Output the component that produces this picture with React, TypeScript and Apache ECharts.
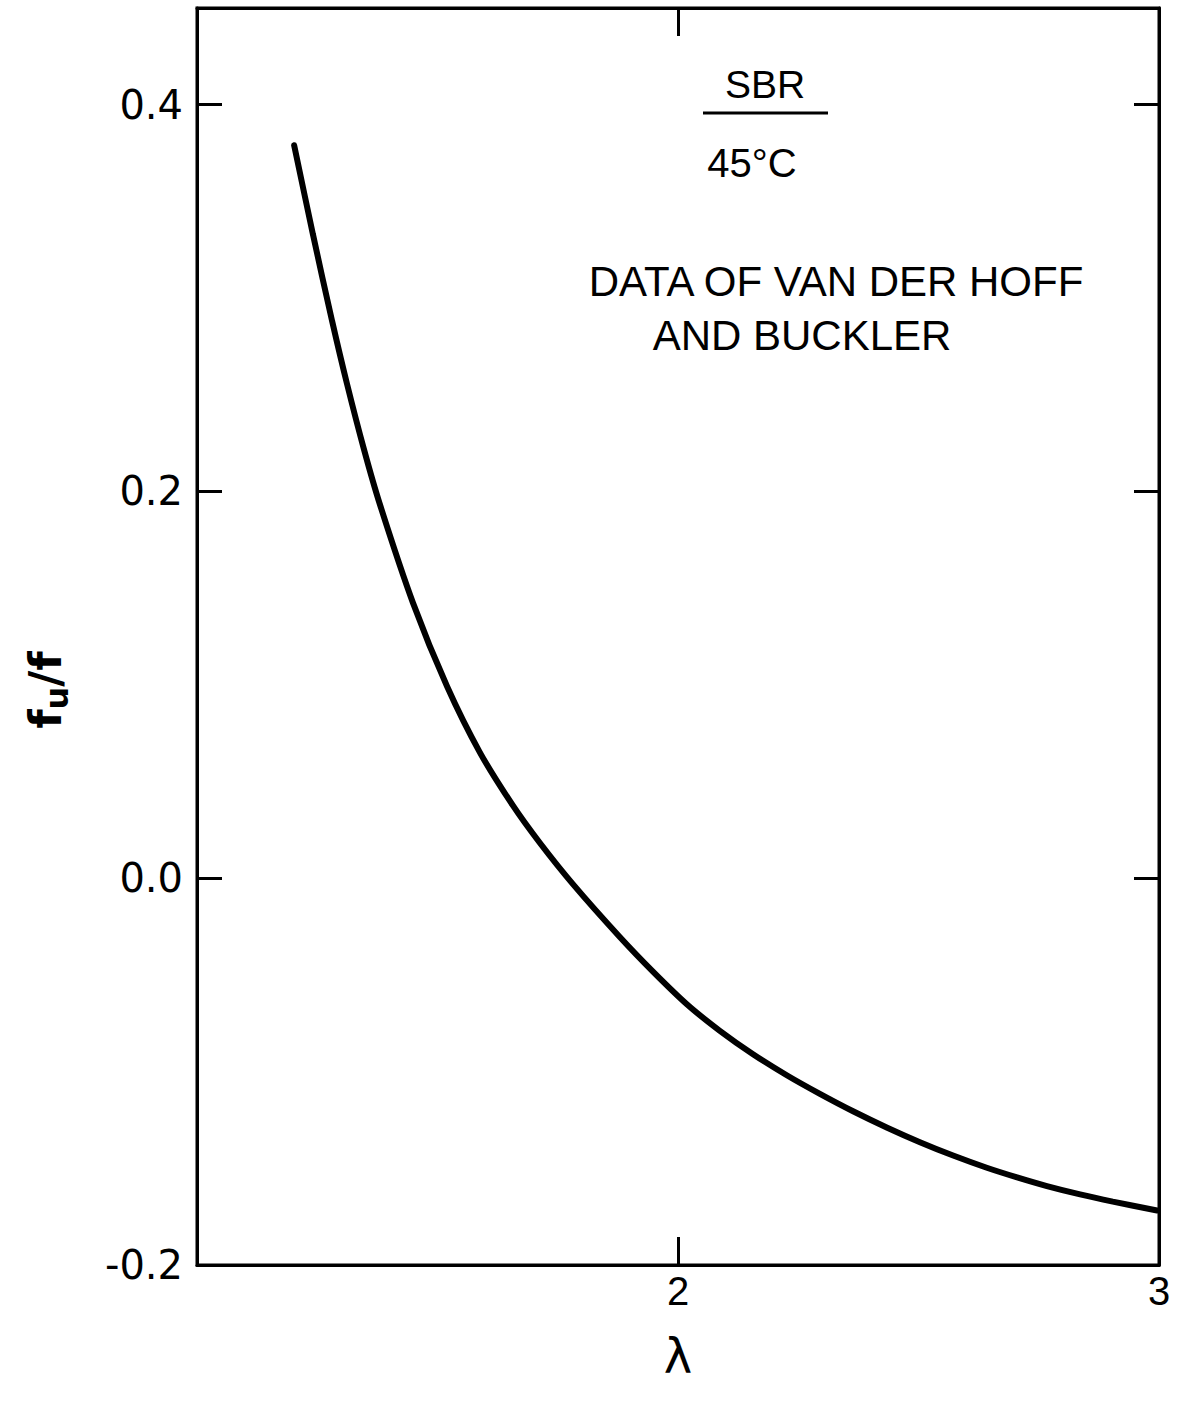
import React, { useEffect, useRef } from "react";
import * as echarts from "echarts";

// λ (stretch ratio) and f_u/f
const lambdaValues = [
  1.202, 1.241, 1.281, 1.312, 1.347, 1.38, 1.449, 1.52, 1.588, 1.657, 1.713,
  1.782, 1.879, 1.948, 2.019, 2.087, 2.156, 2.227, 2.295, 2.364, 2.435, 2.503,
  2.572, 2.642, 2.705, 2.767, 2.836, 2.904, 2.996,
];
const fuOverF = [
  0.379, 0.333, 0.288, 0.2555, 0.2219, 0.1935, 0.1424, 0.0991, 0.0651, 0.0375,
  0.0182, -0.0032, -0.0304, -0.0483, -0.0653, -0.0789, -0.091, -0.102,
  -0.1115, -0.1205, -0.129, -0.1365, -0.1434, -0.1497, -0.1547, -0.1592,
  -0.1635, -0.1672, -0.1718,
];
const xTickLabels = ["2", "3"];
const annotationTitle = "SBR";
const annotationTemp = "45°C";
const annotationLine1 = "DATA OF VAN DER HOFF";
const annotationLine2 = "AND BUCKLER";

export default function App() {
  const ref = useRef<HTMLDivElement>(null);
  useEffect(() => {
    document.body.style.margin = "0";
    if (!ref.current) return;
    const chart = echarts.init(ref.current, undefined, { renderer: "svg" });
    const data = lambdaValues.map((l, i) => [l, fuOverF[i]]);
    const tickFont = "DejaVu Sans";
    const annFont = "Liberation Sans";
    const axisLine = { show: true, onZero: false, lineStyle: { color: "#000", width: 3 } };
    chart.setOption({
      animation: false,
      backgroundColor: "#ffffff",
      grid: {
        left: 197,
        right: 20,
        top: 8,
        bottom: 137,
        show: true,
        borderColor: "#000",
        borderWidth: 3,
        backgroundColor: "transparent",
      },
      xAxis: [
        {
          type: "value",
          min: 1,
          max: 3,
          interval: 1,
          position: "bottom",
          axisLine,
          axisTick: { show: true, inside: true, length: 28, lineStyle: { color: "#000", width: 3 } },
          axisLabel: {
            show: true,
            showMinLabel: false,
            margin: 6,
            color: "#000",
            fontFamily: "Liberation Sans Narrow, Liberation Sans",
            fontSize: 40,
            formatter: (v: number) => (xTickLabels.includes(String(v)) ? String(v) : ""),
          },
          splitLine: { show: false },
        },
        {
          type: "value",
          min: 1,
          max: 3,
          interval: 1,
          position: "top",
          axisLine,
          axisTick: { show: true, inside: true, length: 28, lineStyle: { color: "#000", width: 3 } },
          axisLabel: { show: false },
          splitLine: { show: false },
        },
      ],
      yAxis: [
        {
          type: "value",
          min: -0.2,
          max: 0.45,
          interval: 0.2,
          position: "left",
          axisLine,
          axisTick: { show: true, inside: true, length: 25, lineStyle: { color: "#000", width: 3 } },
          axisLabel: {
            show: true,
            showMaxLabel: false,
            margin: 14,
            color: "#000",
            fontFamily: tickFont,
            fontSize: 40,
            formatter: (v: number) => v.toFixed(1),
          },
          splitLine: { show: false },
        },
        {
          type: "value",
          min: -0.2,
          max: 0.45,
          interval: 0.2,
          position: "right",
          axisLine,
          axisTick: { show: true, inside: true, length: 25, lineStyle: { color: "#000", width: 3 } },
          axisLabel: { show: false },
          splitLine: { show: false },
        },
      ],
      series: [
        {
          type: "line",
          data,
          xAxisIndex: 0,
          yAxisIndex: 0,
          smooth: 0.3,
          showSymbol: false,
          lineStyle: { color: "#000", width: 6, cap: "round" },
        },
      ],
      graphic: [
        {
          type: "text",
          x: 765,
          y: 84,
          style: { text: annotationTitle, font: `39px ${annFont}`, fill: "#000", align: "center", verticalAlign: "middle" },
        },
        {
          type: "line",
          shape: { x1: 703, y1: 113, x2: 828, y2: 113 },
          style: { stroke: "#000", lineWidth: 3 },
        },
        {
          type: "text",
          x: 752,
          y: 163,
          style: { text: annotationTemp, font: `40px ${annFont}`, fill: "#000", align: "center", verticalAlign: "middle" },
        },
        {
          type: "text",
          x: 836,
          y: 281,
          style: { text: annotationLine1, font: `42px ${annFont}`, fill: "#000", align: "center", verticalAlign: "middle" },
        },
        {
          type: "text",
          x: 802,
          y: 335,
          style: { text: annotationLine2, font: `42px ${annFont}`, fill: "#000", align: "center", verticalAlign: "middle" },
        },
        {
          type: "text",
          x: 678,
          y: 1356,
          style: { text: "λ", font: `48px ${tickFont}`, fill: "#000", align: "center", verticalAlign: "middle" },
        },
        {
          type: "text",
          x: 48,
          y: 690,
          rotation: Math.PI / 2,
          style: {
            text: "{a|f}{b|u}{a|/f}",
            fill: "#000",
            align: "center",
            verticalAlign: "middle",
            rich: {
              a: { fontFamily: tickFont, fontSize: 44, fontWeight: "bold", verticalAlign: "top", fill: "#000" },
              b: { fontFamily: tickFont, fontSize: 32, fontWeight: "bold", padding: [18, 0, 0, 0], fill: "#000" },
            },
          },
        },
      ],
    });
    return () => chart.dispose();
  }, []);
  return <div ref={ref} style={{ width: 1179, height: 1402 }} />;
}
